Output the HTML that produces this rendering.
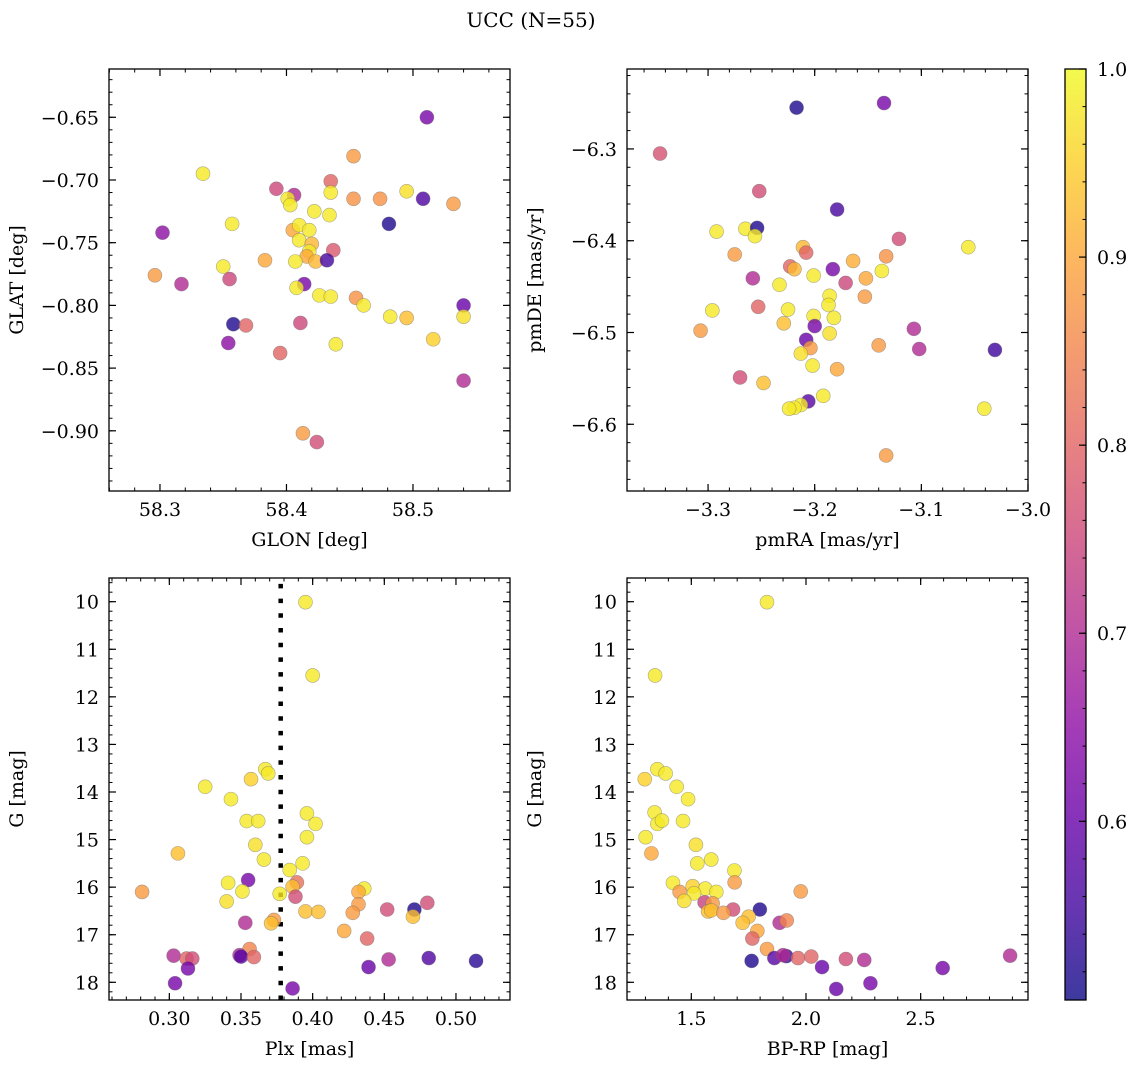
<!DOCTYPE html>
<html><head><meta charset="utf-8"><style>
html,body{margin:0;padding:0;background:#fff;}
svg{display:block;font-family:"DejaVu Serif","Liberation Serif",serif;}
</style></head><body>
<svg id="fig" width="1136" height="1068" viewBox="0 0 1136 1068" xmlns="http://www.w3.org/2000/svg">
<rect width="1136" height="1068" fill="#fff"/>
<text x="531" y="27" text-anchor="middle" font-size="20">UCC (N=55)</text>
<defs>
<linearGradient id="cbgrad" x1="0" y1="1" x2="0" y2="0">
<stop offset="0" stop-color="#0d0887"/><stop offset="0.1" stop-color="#41049d"/><stop offset="0.2" stop-color="#6a00a8"/><stop offset="0.3" stop-color="#8f0da4"/><stop offset="0.4" stop-color="#b12a90"/><stop offset="0.5" stop-color="#cc4778"/><stop offset="0.6" stop-color="#e16462"/><stop offset="0.7" stop-color="#f2844b"/><stop offset="0.8" stop-color="#fca636"/><stop offset="0.9" stop-color="#fcce25"/><stop offset="1" stop-color="#f0f921"/>
</linearGradient>
</defs>
</svg>
<script>
// ---- data: panel 1 (GLON vs GLAT)
const glon = [58.511,58.453,58.334,58.435,58.392,58.406,58.435,58.495,58.401,58.403,58.453,58.474,58.508,58.532,58.422,58.434,58.481,58.357,58.302,58.405,58.410,58.418,58.410,58.420,58.418,58.437,58.416,58.423,58.432,58.407,58.383,58.350,58.296,58.317,58.355,58.414,58.408,58.426,58.435,58.455,58.461,58.540,58.540,58.482,58.495,58.358,58.368,58.411,58.516,58.439,58.354,58.395,58.540,58.413,58.424];
const glat = [-0.650,-0.681,-0.695,-0.701,-0.707,-0.712,-0.710,-0.709,-0.715,-0.720,-0.715,-0.715,-0.715,-0.719,-0.725,-0.728,-0.735,-0.735,-0.742,-0.740,-0.736,-0.740,-0.748,-0.751,-0.757,-0.756,-0.761,-0.765,-0.764,-0.765,-0.764,-0.769,-0.776,-0.783,-0.779,-0.783,-0.786,-0.792,-0.793,-0.794,-0.800,-0.800,-0.809,-0.809,-0.810,-0.815,-0.816,-0.814,-0.827,-0.831,-0.830,-0.838,-0.860,-0.902,-0.909];
const prob1 = [.62,.88,.98,.80,.75,.70,.98,.97,.98,.98,.87,.87,.57,.88,.98,.98,.52,.98,.65,.90,.98,.98,.98,.92,.98,.78,.90,.92,.56,.98,.90,.98,.88,.70,.75,.62,.98,.98,.98,.87,.98,.60,.97,.98,.93,.52,.80,.75,.95,.98,.65,.80,.70,.88,.76];
// ---- data: panel 2 (pmRA vs pmDE)
const pmra = [-3.217,-3.135,-3.345,-3.252,-3.179,-3.292,-3.265,-3.254,-3.256,-3.121,-3.056,-3.211,-3.208,-3.275,-3.133,-3.164,-3.223,-3.219,-3.183,-3.137,-3.201,-3.258,-3.152,-3.171,-3.233,-3.186,-3.153,-3.187,-3.296,-3.225,-3.253,-3.182,-3.201,-3.229,-3.200,-3.107,-3.307,-3.186,-3.208,-3.140,-3.102,-3.031,-3.204,-3.213,-3.202,-3.179,-3.270,-3.248,-3.192,-3.206,-3.213,-3.219,-3.224,-3.041,-3.133];
const pmde = [-6.255,-6.250,-6.305,-6.346,-6.366,-6.390,-6.387,-6.386,-6.395,-6.398,-6.407,-6.407,-6.413,-6.415,-6.417,-6.422,-6.428,-6.431,-6.431,-6.433,-6.438,-6.441,-6.441,-6.446,-6.448,-6.460,-6.461,-6.470,-6.476,-6.475,-6.472,-6.484,-6.482,-6.490,-6.493,-6.496,-6.498,-6.501,-6.508,-6.514,-6.518,-6.519,-6.517,-6.523,-6.536,-6.540,-6.549,-6.555,-6.569,-6.575,-6.579,-6.582,-6.583,-6.583,-6.634];
const prob2 = [.52,.62,.77,.76,.56,.98,.98,.52,.98,.76,.98,.92,.80,.88,.87,.91,.80,.92,.62,.98,.98,.70,.90,.75,.98,.98,.88,.98,.98,.98,.80,.98,.98,.93,.62,.70,.88,.97,.60,.88,.70,.55,.88,.97,.98,.90,.76,.93,.98,.58,.98,.98,.98,.98,.88];
// ---- data: panel 3 (Plx vs G)
const plx = [0.395,0.400,0.367,0.369,0.357,0.325,0.343,0.396,0.402,0.354,0.362,0.396,0.360,0.306,0.366,0.393,0.384,0.355,0.341,0.389,0.386,0.281,0.351,0.377,0.436,0.432,0.388,0.480,0.340,0.432,0.471,0.452,0.395,0.404,0.428,0.470,0.353,0.373,0.371,0.422,0.438,0.356,0.303,0.349,0.350,0.359,0.312,0.316,0.481,0.453,0.514,0.313,0.439,0.304,0.386];
const gmag3 = [10.01,11.55,13.52,13.61,13.73,13.89,14.15,14.45,14.67,14.61,14.61,14.95,15.11,15.29,15.42,15.50,15.64,15.85,15.91,15.90,15.99,16.10,16.09,16.14,16.03,16.10,16.20,16.33,16.30,16.36,16.47,16.47,16.51,16.52,16.54,16.62,16.75,16.69,16.76,16.92,17.08,17.30,17.44,17.43,17.46,17.47,17.50,17.50,17.49,17.52,17.55,17.71,17.68,18.02,18.13];
const prob3 = [.98,.98,.98,.98,.95,.98,.98,.98,.98,.98,.98,.98,.97,.93,.98,.98,.98,.62,.98,.82,.93,.88,.98,.98,.98,.90,.76,.76,.97,.88,.52,.76,.93,.93,.88,.93,.70,.88,.93,.90,.80,.85,.70,.70,.58,.80,.80,.76,.57,.70,.53,.62,.60,.62,.62];
const plxLine = [0.3777];
// ---- data: panel 4 (BP-RP vs G)
const bprp = [1.830,1.342,1.352,1.388,1.297,1.436,1.486,1.340,1.352,1.372,1.464,1.301,1.520,1.326,1.526,1.587,1.688,1.420,1.689,1.506,1.561,1.449,1.512,1.609,1.977,1.469,1.558,1.593,1.682,1.799,1.573,1.587,1.640,1.750,1.724,1.885,1.916,1.788,1.766,1.830,1.763,1.862,1.914,1.900,1.965,2.023,2.174,2.254,2.890,2.070,2.596,2.281,2.132];
const gmag4 = [10.01,11.55,13.52,13.61,13.73,13.89,14.15,14.43,14.67,14.60,14.61,14.95,15.11,15.29,15.50,15.42,15.65,15.91,15.90,15.98,16.03,16.10,16.13,16.10,16.09,16.29,16.32,16.34,16.47,16.47,16.51,16.49,16.54,16.62,16.75,16.75,16.70,16.92,17.08,17.30,17.55,17.49,17.45,17.43,17.49,17.46,17.51,17.53,17.44,17.68,17.70,18.02,18.14];
const prob4 = [.98,.98,.98,.98,.95,.98,.98,.98,.98,.98,.98,.98,.97,.90,.98,.98,.98,.98,.88,.95,.98,.88,.98,.98,.88,.97,.74,.88,.76,.52,.93,.93,.88,.93,.93,.70,.85,.90,.80,.88,.52,.58,.55,.70,.80,.80,.76,.70,.70,.60,.62,.62,.60];
// ---- tick values / labels
const xt1 = [58.3,58.4,58.5], xt1L = ["58.3","58.4","58.5"];
const yt1 = [-0.65,-0.70,-0.75,-0.80,-0.85,-0.90], yt1L = ["−0.65","−0.70","−0.75","−0.80","−0.85","−0.90"];
const xt2 = [-3.3,-3.2,-3.1,-3.0], xt2L = ["−3.3","−3.2","−3.1","−3.0"];
const yt2 = [-6.3,-6.4,-6.5,-6.6], yt2L = ["−6.3","−6.4","−6.5","−6.6"];
const xt3 = [0.30,0.35,0.40,0.45,0.50], xt3L = ["0.30","0.35","0.40","0.45","0.50"];
const ytG = [10,11,12,13,14,15,16,17,18], ytGL = ["10","11","12","13","14","15","16","17","18"];
const xt4 = [1.5,2.0,2.5], xt4L = ["1.5","2.0","2.5"];
const cbTicks = [0.6,0.7,0.8,0.9,1.0], cbTickL = ["0.6","0.7","0.8","0.9","1.0"];
const cbMin = 0.505, cbMax = 1.0;

const FS = 19;
const NS = "http://www.w3.org/2000/svg";
const svg = document.getElementById("fig");
function mk(tag, attrs, parent){ const e=document.createElementNS(NS,tag); for(const k in attrs) e.setAttribute(k,attrs[k]); (parent||svg).appendChild(e); return e; }

const stops=[[0,[13,8,135]],[0.1,[65,4,157]],[0.2,[106,0,168]],[0.3,[143,13,164]],[0.4,[177,42,144]],[0.5,[204,71,120]],[0.6,[225,100,98]],[0.7,[242,132,75]],[0.8,[252,166,54]],[0.9,[252,206,37]],[1,[240,249,33]]];
function plasma(v){ let t=(v-cbMin)/(cbMax-cbMin); t=Math.max(0,Math.min(1,t));
  for(let i=1;i<stops.length;i++){ if(t<=stops[i][0]){ const a=stops[i-1],b=stops[i]; const f=(t-a[0])/(b[0]-a[0]);
    const c=a[1].map((x,j)=>Math.round(x+(b[1][j]-x)*f)); return `rgb(${c[0]},${c[1]},${c[2]})`; } }
  return "rgb(240,249,33)"; }

function panel(c){
  const g = mk("g",{});
  
  
  const sx = v => c.x0 + (v-c.xmin)/(c.xmax-c.xmin)*c.w;
  const sy = v => c.y0 + (v-c.ytop)/(c.ybot-c.ytop)*c.h;
  const lo=Math.min(c.xmin,c.xmax), hi=Math.max(c.xmin,c.xmax);
  for(let v=Math.ceil(lo/c.xminor-1e-6)*c.xminor; v<=hi+1e-9; v+=c.xminor){ const x=sx(v);
    mk("line",{x1:x,x2:x,y1:c.y0+c.h,y2:c.y0+c.h-3.5,stroke:"#000","stroke-width":1},g);
    mk("line",{x1:x,x2:x,y1:c.y0,y2:c.y0+3.5,stroke:"#000","stroke-width":1},g); }
  const ylo=Math.min(c.ytop,c.ybot), yhi=Math.max(c.ytop,c.ybot);
  for(let v=Math.ceil(ylo/c.yminor-1e-6)*c.yminor; v<=yhi+1e-9; v+=c.yminor){ const y=sy(v);
    mk("line",{x1:c.x0,x2:c.x0+3.5,y1:y,y2:y,stroke:"#000","stroke-width":1},g);
    mk("line",{x1:c.x0+c.w,x2:c.x0+c.w-3.5,y1:y,y2:y,stroke:"#000","stroke-width":1},g); }
  c.xt.forEach((v,i)=>{ const x=sx(v);
    mk("line",{x1:x,x2:x,y1:c.y0+c.h,y2:c.y0+c.h-7,stroke:"#000","stroke-width":1.2},g);
    mk("line",{x1:x,x2:x,y1:c.y0,y2:c.y0+7,stroke:"#000","stroke-width":1.2},g);
    const t=mk("text",{x:x,y:c.y0+c.h+25,"text-anchor":"middle","font-size":FS},g); t.textContent=c.xtL[i];
    
     });
  c.yt.forEach((v,i)=>{ const y=sy(v);
    mk("line",{x1:c.x0,x2:c.x0+7,y1:y,y2:y,stroke:"#000","stroke-width":1.2},g);
    mk("line",{x1:c.x0+c.w,x2:c.x0+c.w-7,y1:y,y2:y,stroke:"#000","stroke-width":1.2},g);
    const t=mk("text",{x:c.x0-10,y:y+7,"text-anchor":"end","font-size":FS},g); t.textContent=c.ytL[i];
    
     });
  const xl=mk("text",{x:c.x0+c.w/2,y:c.y0+c.h+55,"text-anchor":"middle","font-size":FS},g); xl.textContent=c.xlabel;
  
  
  const yl=mk("text",{x:0,y:0,"text-anchor":"middle","font-size":FS,transform:`translate(${c.x0-86},${c.y0+c.h/2}) rotate(-90)`},g); yl.textContent=c.ylabel;
  
  
  const clip="clip"+c.name; const cp=mk("clipPath",{id:clip},g); mk("rect",{x:c.x0,y:c.y0,width:c.w,height:c.h},cp);
  const pg=mk("g",{"clip-path":`url(#${clip})`},g);
  if(c.vline){ c.vline.forEach(v=>{ const l=mk("line",{x1:sx(v),x2:sx(v),y1:c.y0+c.h,y2:c.y0,stroke:"#000","stroke-width":4.5,"stroke-dasharray":"4.5 10.2"},pg);
    
     }); }
  c.xs.forEach((v,i)=>{ const p=mk("circle",{cx:sx(v),cy:sy(c.ys[i]),r:7,fill:plasma(c.ps[i]),"fill-opacity":0.8,stroke:"#6b6b6b","stroke-opacity":0.55,"stroke-width":0.6},pg);
    
     });
  const fr=mk("rect",{x:c.x0,y:c.y0,width:c.w,height:c.h,fill:"none",stroke:"#000","stroke-width":1.3},g);
  
  
}

panel({name:"panel-glon-glat",x0:109,y0:69,w:401,h:422,xmin:58.2597,xmax:58.5767,ytop:-0.6115,ybot:-0.948,xt:xt1,xtL:xt1L,yt:yt1,ytL:yt1L,xminor:0.02,yminor:0.01,xlabel:"GLON [deg]",ylabel:"GLAT [deg]",xs:glon,ys:glat,ps:prob1});
panel({name:"panel-pm",x0:627,y0:69,w:401,h:422,xmin:-3.376,xmax:-3.0,ytop:-6.2129,ybot:-6.6727,xt:xt2,xtL:xt2L,yt:yt2,ytL:yt2L,xminor:0.02,yminor:0.02,xlabel:"pmRA [mas/yr]",ylabel:"pmDE [mas/yr]",xs:pmra,ys:pmde,ps:prob2});
panel({name:"panel-plx-g",x0:109,y0:578,w:401,h:422,xmin:0.2579,xmax:0.5377,ytop:9.502,ybot:18.372,xt:xt3,xtL:xt3L,yt:ytG,ytL:ytGL,xminor:0.01,yminor:0.2,xlabel:"Plx [mas]",ylabel:"G [mag]",xs:plx,ys:gmag3,ps:prob3,vline:plxLine});
panel({name:"panel-cmd",x0:627,y0:578,w:401,h:422,xmin:1.2196,xmax:2.968,ytop:9.502,ybot:18.372,xt:xt4,xtL:xt4L,yt:ytG,ytL:ytGL,xminor:0.1,yminor:0.2,xlabel:"BP-RP [mag]",ylabel:"G [mag]",xs:bprp,ys:gmag4,ps:prob4});

// colorbar
const cb = mk("g",{});


const cbx=1065, cby=69, cbw=21, cbh=931;
mk("rect",{x:cbx,y:cby,width:cbw,height:cbh,fill:"url(#cbgrad)","fill-opacity":0.8},cb);
const cbY = v => cby + (cbMax-v)/(cbMax-cbMin)*cbh;
for(let v=0.52; v<=1.0001; v+=0.02){ const y=cbY(v); mk("line",{x1:cbx+cbw,x2:cbx+cbw-3.5,y1:y,y2:y,stroke:"#000","stroke-width":1},cb); }
cbTicks.forEach((v,i)=>{ const y=cbY(v);
  mk("line",{x1:cbx+cbw,x2:cbx+cbw-7,y1:y,y2:y,stroke:"#000","stroke-width":1.2},cb);
  const t=mk("text",{x:cbx+cbw+11,y:y+7,"font-size":FS},cb); t.textContent=cbTickL[i];
  
   });
mk("rect",{x:cbx,y:cby,width:cbw,height:cbh,fill:"none",stroke:"#000","stroke-width":1.3},cb);
</script>
</body></html>
